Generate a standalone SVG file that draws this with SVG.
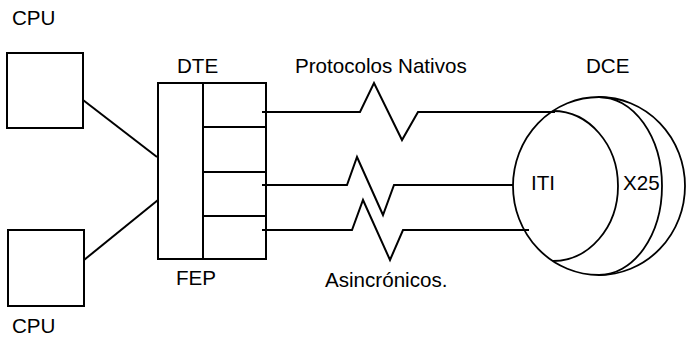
<svg xmlns="http://www.w3.org/2000/svg" width="686" height="337" viewBox="0 0 686 337">
<style>
.ln{fill:none;stroke:#000;stroke-width:2;stroke-linejoin:miter}
.th{fill:none;stroke:#000;stroke-width:1.8}
text{font-family:"Liberation Sans",Arial,sans-serif;font-size:20.6px;fill:#000}
</style>
<rect width="686" height="337" fill="#fff"/>
<g id="cpu-top">
<rect class="ln" x="7" y="53" width="76" height="75"/>
<text x="12" y="25">CPU</text>
</g>
<g id="cpu-bottom">
<rect class="ln" x="8" y="230" width="76" height="76"/>
<text x="12" y="333">CPU</text>
</g>
<g id="fep">
<rect class="ln" x="158" y="83" width="108" height="176"/>
<path class="ln" d="M203 83V259M203 127H265M203 172H265M203 216H265"/>
<text x="177" y="73">DTE</text>
<text x="176" y="285">FEP</text>
</g>
<g id="dce">
<ellipse class="th" cx="599" cy="186" rx="86" ry="89"/>
<path class="th" d="M599 97A63 89 0 0 1 599 275"/>
<path class="th" d="M553 111A65 75 0 0 1 553 261"/>
<text x="586" y="73">DCE</text>
<text x="531" y="190">ITI</text>
<text x="623" y="190">X25</text>
</g>
<g id="connectors">
<path class="ln" d="M83 100L157 157"/>
<path class="ln" d="M84 260L158 200"/>
<path class="ln" d="M262 112H360L374 83L402 140L418 112H555"/>
<path class="ln" d="M262 185H347L357 157L383 215L394 185H513"/>
<path class="ln" d="M262 230H352L363 200L390 260L403 230H529"/>
</g>
<g id="labels">
<text x="295" y="73">Protocolos Nativos</text>
<text x="325" y="287">Asincrónicos.</text>
</g>
</svg>
